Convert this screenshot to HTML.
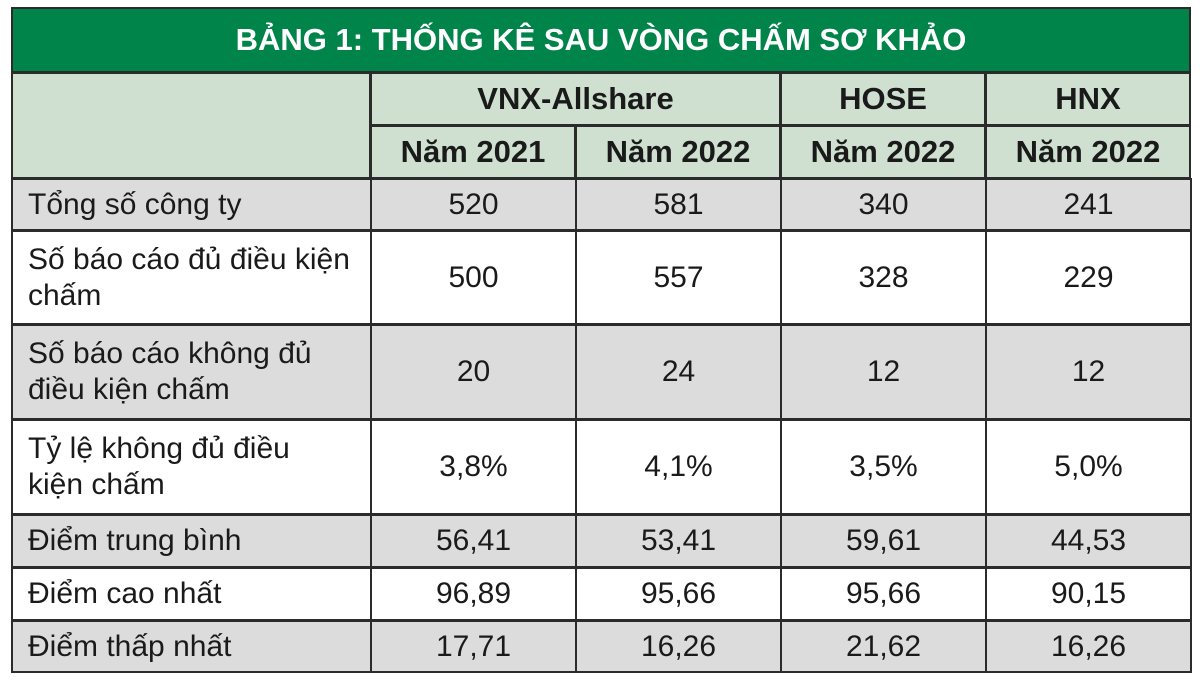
<!DOCTYPE html>
<html><head><meta charset="utf-8"><style>
body{margin:0;width:1200px;height:690px;background:#fff;overflow:hidden;font-family:"Liberation Sans",sans-serif;}
.c{position:absolute;box-sizing:border-box;border:2px solid #2b2b2b;display:flex;align-items:center;justify-content:center;color:#1a1a1a;font-size:30px;line-height:36px;margin:-1px 0 0 -1px;}
.l{justify-content:flex-start;padding-left:15px;}
.h{font-weight:bold;background:#cfe0d0;font-size:31px;}
.g{background:#dcdcdd;}
.title{background:#00844a;color:#fff;font-weight:bold;font-size:31px;}
</style></head><body>
<div>
<div class="c title" style="left:12px;top:8px;width:1180px;height:66px;">BẢNG 1: THỐNG KÊ SAU VÒNG CHẤM SƠ KHẢO</div>
<div class="c h" style="left:12px;top:73px;width:360px;height:107px;"></div>
<div class="c h" style="left:371px;top:73px;width:411px;height:54px;">VNX-Allshare</div>
<div class="c h" style="left:781px;top:73px;width:206px;height:54px;">HOSE</div>
<div class="c h" style="left:986px;top:73px;width:206px;height:54px;">HNX</div>
<div class="c h" style="left:371px;top:126px;width:206px;height:54px;">Năm 2021</div>
<div class="c h" style="left:576px;top:126px;width:206px;height:54px;">Năm 2022</div>
<div class="c h" style="left:781px;top:126px;width:206px;height:54px;">Năm 2022</div>
<div class="c h" style="left:986px;top:126px;width:206px;height:54px;">Năm 2022</div>
<div id="rows"></div>
</div>
<script>
const labels=["Tổng số công ty","Số báo cáo đủ điều kiện<br>chấm","Số báo cáo không đủ<br>điều kiện chấm","Tỷ lệ không đủ điều<br>kiện chấm","Điểm trung bình","Điểm cao nhất","Điểm thấp nhất"];
const vnx2021=["520","500","20","3,8%","56,41","96,89","17,71"];
const vnx2022=["581","557","24","4,1%","53,41","95,66","16,26"];
const hose2022=["340","328","12","3,5%","59,61","95,66","21,62"];
const hnx2022=["241","229","12","5,0%","44,53","90,15","16,26"];
const tops=[179,231,325,420,515,568,621,673];
const cols=[[12,360],[371,206],[576,206],[781,206],[986,206]];
const root=document.getElementById('rows');
for(let r=0;r<labels.length;r++){
  const vals=[labels[r],vnx2021[r],vnx2022[r],hose2022[r],hnx2022[r]];
  for(let c=0;c<5;c++){
    const d=document.createElement('div');
    d.className='c'+(c==0?' l':'')+(r%2==0?' g':'');
    d.style.left=cols[c][0]+'px';d.style.width=(cols[c][1]+1)+'px';
    d.style.top=tops[r]+'px';d.style.height=(tops[r+1]-tops[r]+1)+'px';
    d.innerHTML=vals[c];
    
    
    root.appendChild(d);
  }
}
</script>
</body></html>
